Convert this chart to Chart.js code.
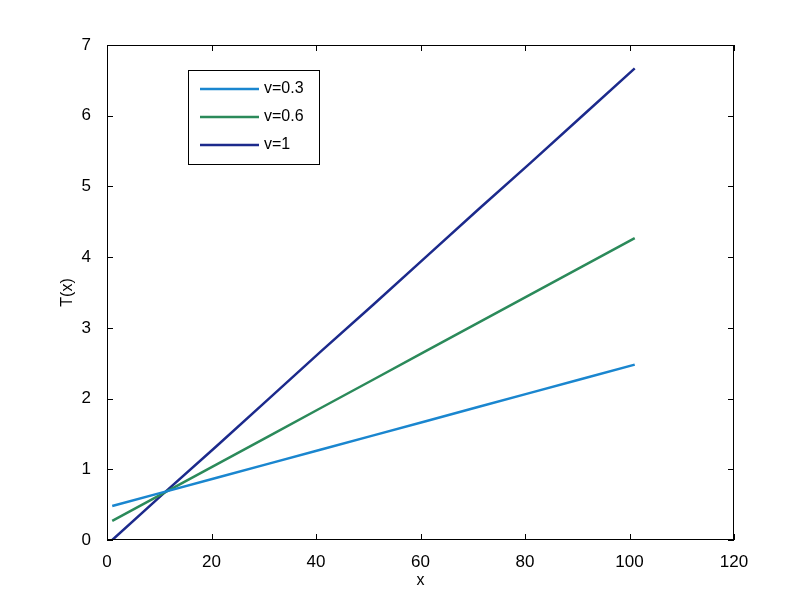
<!DOCTYPE html>
<html>
<head>
<meta charset="utf-8">
<script src="https://cdn.jsdelivr.net/npm/chart.js@4"></script>
<style>
  html, body { margin: 0; padding: 0; background: #fff; }
  #wrap { width: 807px; height: 606px; }
</style>
</head>
<body>
<div id="wrap"><canvas id="myChart" width="807" height="606"></canvas></div>
<script>
// values
var xs = [1, 11, 21, 31, 41, 51, 61, 71, 81, 91, 101];
var t03 = [0.48, 0.68, 0.88, 1.08, 1.28, 1.48, 1.68, 1.88, 2.08, 2.28, 2.48];
var t06 = [0.27, 0.67, 1.07, 1.47, 1.87, 2.27, 2.67, 3.07, 3.47, 3.87, 4.27];
var t10 = [0.00, 0.67, 1.33, 2.00, 2.67, 3.33, 4.00, 4.67, 5.33, 6.00, 6.67];
var labels = ['v=0.3', 'v=0.6', 'v=1'];
var colors = ['#1a86cf', '#2b8a5a', '#1c2a8c'];
var xTicks = [0, 20, 40, 60, 80, 100, 120];
var yTicks = [0, 1, 2, 3, 4, 5, 6, 7];

function pts(ys) {
    return xs.map(function (x, i) { return {x: x, y: ys[i]}; });
}

var FONT = 'Liberation Sans, Arial, sans-serif';

// MATLAB-like box with inward ticks on all sides
var boxPlugin = {
    id: 'box',
    afterDraw: function (chart) {
        var c = chart.ctx, a = chart.chartArea;
        var sx = chart.scales.x, sy = chart.scales.y;
        c.save();
        c.strokeStyle = '#000';
        c.lineWidth = 1;
        c.strokeRect(a.left + 0.5, a.top + 0.5, a.right - a.left - 1, a.bottom - a.top - 1);
        c.beginPath();
        xTicks.forEach(function (v) {
            var px = Math.round(sx.getPixelForValue(v)) + 0.5;
            c.moveTo(px, a.bottom); c.lineTo(px, a.bottom - 6);
            c.moveTo(px, a.top); c.lineTo(px, a.top + 6);
        });
        yTicks.forEach(function (v) {
            var py = Math.round(sy.getPixelForValue(v)) + 0.5;
            c.moveTo(a.left, py); c.lineTo(a.left + 6, py);
            c.moveTo(a.right, py); c.lineTo(a.right - 6, py);
        });
        c.stroke();

        // legend box
        var lx = 188, ly = 70, lw = 131, lh = 94;
        c.fillStyle = '#fff';
        c.fillRect(lx, ly, lw, lh);
        c.strokeRect(lx + 0.5, ly + 0.5, lw, lh);
        c.font = '16px ' + FONT;
        c.textBaseline = 'middle';
        chart.data.datasets.forEach(function (ds, i) {
            var yy = ly + 19 + i * 28;
            c.strokeStyle = ds.borderColor;
            c.lineWidth = 2.5;
            c.beginPath();
            c.moveTo(lx + 12, yy); c.lineTo(lx + 71, yy);
            c.stroke();
            c.fillStyle = '#000';
            c.fillText(ds.label, lx + 76, yy);
        });
        c.restore();
    }
};

var ctx = document.getElementById('myChart').getContext('2d');
var chart = new Chart(ctx, {
    type: 'line',
    data: {
        datasets: [
            {label: labels[0], data: pts(t03), borderColor: colors[0]},
            {label: labels[1], data: pts(t06), borderColor: colors[1]},
            {label: labels[2], data: pts(t10), borderColor: colors[2]}
        ]
    },
    options: {
        responsive: false,
        animation: false,
        layout: {padding: {top: 45, right: 73, left: 0, bottom: 0}},
        elements: {
            line: {borderWidth: 2.5, tension: 0, fill: false},
            point: {radius: 0}
        },
        plugins: {legend: {display: false}, tooltip: {enabled: false}},
        scales: {
            x: {
                type: 'linear', min: 0, max: 120,
                afterBuildTicks: function (s) { s.ticks = xTicks.map(function (v) { return {value: v}; }); },
                afterFit: function (s) { s.height = 66; },
                grid: {display: false},
                border: {display: false},
                ticks: {color: '#000', font: {family: FONT, size: 17}, padding: 4, maxRotation: 0},
                title: {display: true, text: 'x', color: '#000', font: {family: FONT, size: 16}, padding: {top: 4, bottom: 16}}
            },
            y: {
                type: 'linear', min: 0, max: 7,
                afterBuildTicks: function (s) { s.ticks = yTicks.map(function (v) { return {value: v}; }); },
                afterFit: function (s) { s.width = 107; },
                grid: {display: false},
                border: {display: false},
                ticks: {color: '#000', font: {family: FONT, size: 17}, padding: 8},
                title: {display: true, text: 'T(x)', color: '#000', font: {family: FONT, size: 16}, padding: {top: 58, bottom: 0}}
            }
        }
    },
    plugins: [boxPlugin]
});
</script>
</body>
</html>
